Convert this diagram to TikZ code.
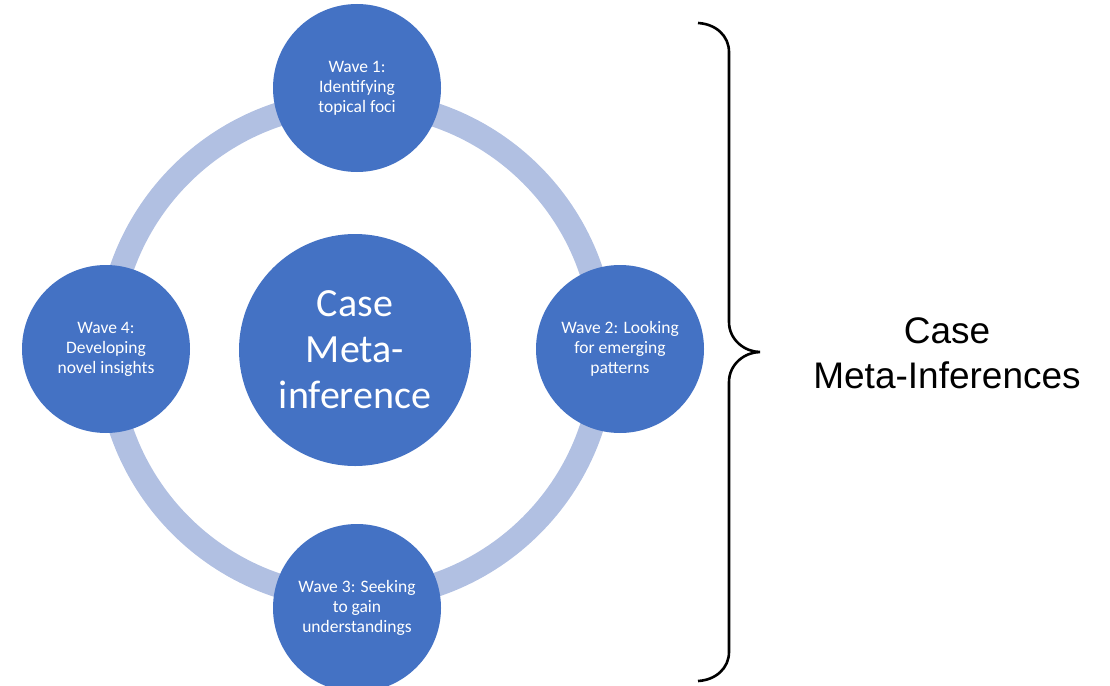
\documentclass[tikz,border=0pt]{standalone}
\usepackage{fontspec}
\setmainfont{Carlito}
\newfontfamily\arialfont{Liberation Sans}
\definecolor{wavefill}{HTML}{4472C4}
\definecolor{ringcol}{HTML}{B1C0E2}
\begin{document}
\begin{tikzpicture}[x=1pt,y=-1pt,
  wave/.style={circle, fill=wavefill, draw=none, minimum size=168pt, inner sep=0pt,
    text=white, align=center, font=\fontsize{17.5}{20}\selectfont},
  hub/.style={circle, fill=wavefill, draw=none, minimum size=232pt, inner sep=0pt,
    text=white, align=center, font=\fontsize{40}{46}\selectfont},
  label/.style={align=center, inner sep=0pt, font=\arialfont\fontsize{37}{45}\selectfont}]
  \useasboundingbox (0,0) rectangle (1110,685);
  % the cycle ring behind the waves
  \draw[ringcol, line width=24pt] (356,350) circle[radius=248];
  % hub and the four waves
  \node[hub] (hub) at (355,350) {Case\\Meta-\\inference};
  \node[wave] (w1) at (357,88) {Wave 1:\\Identifying\\topical foci};
  \node[wave] (w2) at (620,349) {Wave 2: Looking\\for emerging\\patterns};
  \node[wave] (w3) at (357,608) {Wave 3: Seeking\\to gain\\understandings};
  \node[wave] (w4) at (106,349) {Wave 4:\\Developing\\novel insights};
  % brace gathering all waves
  \coordinate (btop) at (698,23);
  \coordinate (btip) at (760,352);
  \coordinate (bbot) at (698,681);
  \draw[line width=2.6pt] (btop) .. controls (716,24) and (729,36) .. (729,52)
    -- (729,322) .. controls (729,340) and (745,352) .. (btip)
    .. controls (745,352) and (729,364) .. (729,382)
    -- (729,652) .. controls (729,668) and (716,680) .. (bbot);
  \node[label] (cmi) at (947,353) {Case\\Meta-Inferences};
\end{tikzpicture}
\end{document}
